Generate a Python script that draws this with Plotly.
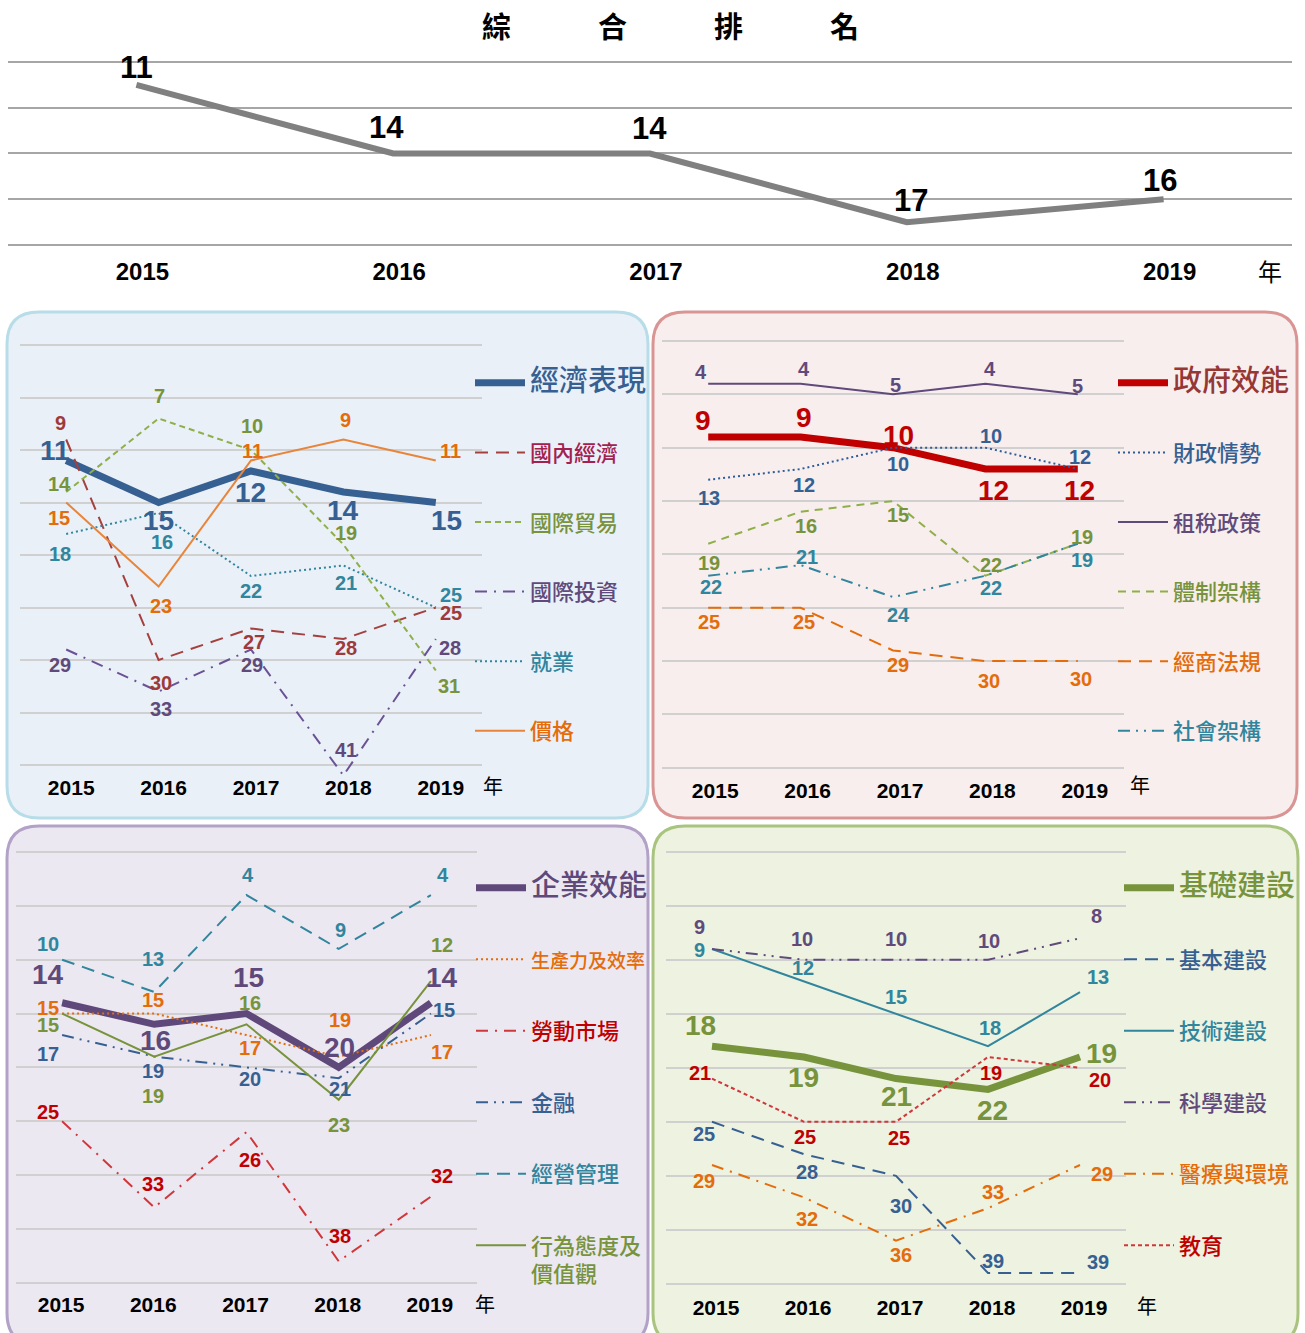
import plotly.graph_objects as go

W, H = 1305, 1333

years = [2015, 2016, 2017, 2018, 2019]
year_labels = ["2015", "2016", "2017", "2018", "2019"]

# 綜合排名
overall = [11, 14, 14, 17, 16]

# 經濟表現
econ_perf = [11, 15, 12, 14, 15]
econ_domestic = [9, 30, 27, 28, 25]
econ_trade = [14, 7, 10, 19, 31]
econ_invest = [29, 33, 29, 41, 28]
econ_employ = [18, 16, 22, 21, 25]
econ_prices = [15, 23, 11, 9, 11]

# 政府效能
gov_eff = [9, 9, 10, 12, 12]
gov_finance = [13, 12, 10, 10, 12]
gov_tax = [4, 4, 5, 4, 5]
gov_inst = [19, 16, 15, 22, 19]
gov_biz_law = [25, 25, 29, 30, 30]
gov_society = [22, 21, 24, 22, 19]

# 企業效能
biz_eff = [14, 16, 15, 20, 14]
biz_productivity = [15, 15, 17, 19, 17]
biz_labor = [25, 33, 26, 38, 32]
biz_finance = [17, 19, 20, 21, 15]
biz_mgmt = [10, 13, 4, 9, 4]
biz_attitude = [15, 19, 16, 23, 12]

# 基礎建設
inf_total = [18, 19, 21, 22, 19]
inf_basic = [25, 28, 30, 39, 39]
inf_tech = [9, 12, 15, 18, 13]
inf_sci = [9, 10, 10, 10, 8]
inf_health = [29, 32, 36, 33, 29]
inf_edu = [21, 25, 25, 19, 20]

NUMFONT = "Liberation Sans, Arial, sans-serif"
CJK = "Noto Sans CJK TC, Noto Sans CJK SC, sans-serif"


def xd(a, b):
    return [a / W, b / W]


def yd(top, bottom):
    return [1 - bottom / H, 1 - top / H]


fig = go.Figure()
annotations = []

# ---------------- panel geometry (pixel based) ----------------
panels = {
    "p1": ("x2", "y2", (20, 482), 345.0, 10.5, 773, 5),
    "p2": ("x3", "y3", (662, 1124), 341.0, 10.67, 776, 7),
    "p3": ("x4", "y4", (16, 477), 852.0, 10.77, 1290, -1),
    "p4": ("x5", "y5", (666, 1126), 851.8, 10.8, 1293, 4),
}
RMIN, RMAX = -1.5, 42.5

axis_common = dict(showline=False, zeroline=False)

layout_axes = {}
top_k = 22.875
top_y0 = 62 - 10 * top_k
layout_axes["xaxis"] = dict(domain=xd(8, 1292), range=[2014.5, 2019.5], tickvals=years,
                            ticktext=year_labels, showgrid=False, anchor="free",
                            position=1 - 255 / H, ticks="", ticklabelshift=6,
                            tickfont=dict(family=NUMFONT, size=24, color="black", weight="bold"),
                            **axis_common)
layout_axes["yaxis"] = dict(domain=yd(top_y0 + 9.7 * top_k, top_y0 + 18.3 * top_k),
                            range=[18.3, 9.7], tick0=10, dtick=2, showticklabels=False,
                            gridcolor="#A6A6A6", gridwidth=1.5, anchor="x", **axis_common)

for key, (xa, ya, (xa0, xa1), y0, k, apos, shift) in panels.items():
    xn = "xaxis" + xa[1:]
    yn = "yaxis" + ya[1:]
    layout_axes[xn] = dict(domain=xd(xa0, xa1), range=[2014.5, 2019.5], tickvals=years,
                           ticktext=year_labels, showgrid=False, anchor="free",
                           position=1 - apos / H, ticks="", ticklabelshift=shift,
                           tickfont=dict(family=NUMFONT, size=21, color="black", weight="bold"),
                           **axis_common)
    layout_axes[yn] = dict(domain=yd(y0 + RMIN * k, y0 + RMAX * k), range=[RMAX, RMIN],
                           tick0=0, dtick=5, showticklabels=False, gridcolor="#D0D0D0",
                           gridwidth=1.5, anchor=xa, **axis_common)


def add_labels(xa, ya, values, offsets, color, size):
    for yr, v, (dx, dy) in zip(years, values, offsets):
        annotations.append(dict(
            x=yr, y=v, xref=xa, yref=ya, text=str(v), showarrow=False,
            xshift=dx, yshift=-dy, xanchor="center", yanchor="middle",
            font=dict(family=NUMFONT, size=size, color=color, weight="bold")))


# ---------------- top overall line ----------------
fig.add_trace(go.Scatter(x=years, y=overall, mode="lines", xaxis="x", yaxis="y",
                         line=dict(color="#808080", width=6), showlegend=False,
                         hoverinfo="skip"))
add_labels("x", "y", overall, [(0, -17), (-7, -26), (-1, -25), (4, -22), (-4, -19)],
           "black", 31)


def add_series(xa, ya, legend, name, values, color, label_color, dash, width, offsets,
               name_color, main=False, name_size=None):
    if main:
        lname = f"<span style='font-size:29px;color:{name_color}'>{name}</span>"
        tsize = 28
    elif name_size:
        lname = f"<span style='font-size:{name_size}px;color:{name_color}'>{name}</span>"
        tsize = 20
    else:
        lname = f"<span style='color:{name_color}'>{name}</span>"
        tsize = 20
    fig.add_trace(go.Scatter(
        x=years, y=values, mode="lines", xaxis=xa, yaxis=ya,
        line=dict(color=color, width=width, dash=dash),
        name=lname, legend=legend, legendgroup=legend + name, hoverinfo="skip"))
    add_labels(xa, ya, values, offsets, label_color, tsize)


LONG = "13px,8px"
SHORT = "6px,4px"
DOT = "2px,3px"
DASHDOT = "12px,7px,2px,7px"
DASHDOTDOT = "12px,6px,2px,6px,2px,6px"

# Panel 1 : 經濟表現
add_series("x2", "y2", "legend", "經濟表現", econ_perf, "#376092", "#376092", "solid", 7,
           [(-11, -10), (0, 18), (-1, 21), (0, 18), (11, 18)], "#376092", main=True)
add_series("x2", "y2", "legend", "國內經濟", econ_domestic, "#A5403E", "#9E3A3A", LONG, 2,
           [(-6, -17), (2, 23), (3, 13), (3, 9), (15, 5)], "#A3214E")
add_series("x2", "y2", "legend", "國際貿易", econ_trade, "#8FAF48", "#77933C", SHORT, 2,
           [(-7, -8), (1, -23), (1, -24), (3, -12), (13, 15)], "#77933C")
add_series("x2", "y2", "legend", "國際投資", econ_invest, "#6A5294", "#604A7B", DASHDOT, 2,
           [(-6, 15), (2, 17), (1, 15), (3, -26), (14, 9)], "#604A7B")
add_series("x2", "y2", "legend", "就業", econ_employ, "#31859C", "#31859C", DOT, 2,
           [(-6, 20), (3, 29), (0, 15), (3, 17), (15, -13)], "#31859C")
add_series("x2", "y2", "legend", "價格", econ_prices, "#E8853A", "#E46C0A", "solid", 2,
           [(-7, 15), (2, 19), (1, -10), (2, -20), (15, -10)], "#E46C0A")

# Panel 2 : 政府效能
add_series("x3", "y3", "legend2", "政府效能", gov_eff, "#C00000", "#C00000", "solid", 7,
           [(-5, -17), (3, -20), (5, -12), (8, 21), (2, 21)], "#953735", main=True)
add_series("x3", "y3", "legend2", "財政情勢", gov_finance, "#2E5C99", "#376092", DOT, 2,
           [(1, 18), (3, 16), (5, 16), (6, -12), (2, -12)], "#376092")
add_series("x3", "y3", "legend2", "租稅政策", gov_tax, "#604A7B", "#604A7B", "solid", 2,
           [(-7, -12), (3, -15), (2, -9), (5, -15), (0, -8)], "#604A7B")
add_series("x3", "y3", "legend2", "體制架構", gov_inst, "#8FAF48", "#77933C", "8px,6px", 2,
           [(1, 19), (5, 14), (5, 14), (6, -11), (4, -7)], "#77933C")
add_series("x3", "y3", "legend2", "經商法規", gov_biz_law, "#E46C0A", "#E46C0A", LONG, 2,
           [(1, 14), (3, 14), (5, 15), (4, 20), (3, 18)], "#E46C0A")
add_series("x3", "y3", "legend2", "社會架構", gov_society, "#31859C", "#31859C", DASHDOTDOT, 2,
           [(3, 11), (6, -8), (5, 18), (6, 12), (4, 16)], "#31859C")

# Panel 3 : 企業效能
add_series("x4", "y4", "legend3", "企業效能", biz_eff, "#5F497A", "#5F497A", "solid", 7,
           [(-14, -28), (1, 16), (2, -36), (1, -20), (11, -25)], "#5F497A", main=True)
add_series("x4", "y4", "legend3", "生產力及效率", biz_productivity, "#E46C0A", "#E46C0A", DOT, 2,
           [(-14, -6), (-1, -14), (3, 13), (1, -37), (11, 17)], "#E46C0A", name_size=19)
add_series("x4", "y4", "legend3", "勞動市場", biz_labor, "#D0373A", "#C00000", DASHDOT, 2,
           [(-14, -9), (-1, -23), (3, 28), (1, -25), (11, -21)], "#C00000")
add_series("x4", "y4", "legend3", "金融", biz_finance, "#376092", "#376092", DASHDOTDOT, 2,
           [(-14, 19), (-1, 14), (3, 12), (1, 11), (13, -4)], "#376092")
add_series("x4", "y4", "legend3", "經營管理", biz_mgmt, "#31859C", "#31859C", LONG, 2,
           [(-14, -16), (-1, -33), (1, -20), (2, -19), (12, -20)], "#31859C")
add_series("x4", "y4", "legend3", "行為態度及<br>價值觀", biz_attitude, "#77933C", "#77933C", "solid", 2,
           [(-14, 11), (-1, 39), (3, -21), (0, 25), (11, -36)], "#77933C")

# Panel 4 : 基礎建設
add_series("x5", "y5", "legend4", "基礎建設", inf_total, "#77933C", "#77933C", "solid", 7,
           [(-12, -21), (-1, 20), (0, 18), (4, 21), (21, -4)], "#77933C", main=True)
add_series("x5", "y5", "legend4", "基本建設", inf_basic, "#376092", "#376092", LONG, 2,
           [(-8, 12), (3, 18), (5, 30), (5, -12), (18, -11)], "#376092")
add_series("x5", "y5", "legend4", "技術建設", inf_tech, "#31859C", "#31859C", "solid", 2,
           [(-13, 1), (-1, -13), (0, -17), (2, -18), (18, -15)], "#31859C")
add_series("x5", "y5", "legend4", "科學建設", inf_sci, "#604A7B", "#604A7B", DASHDOTDOT, 2,
           [(-13, -22), (-2, -21), (0, -21), (1, -19), (16, -22)], "#604A7B")
add_series("x5", "y5", "legend4", "醫療與環境", inf_health, "#E46C0A", "#E46C0A", DASHDOT, 2,
           [(-8, 16), (3, 22), (5, 14), (5, -16), (22, 9)], "#E46C0A")
add_series("x5", "y5", "legend4", "教育", inf_edu, "#D0373A", "#C00000", "4px,3px", 2,
           [(-12, -6), (1, 15), (3, 16), (3, 16), (20, 12)], "#C00000")


# ---------------- background rounded panels ----------------
def rounded(x0, y0, x1, y1, r):
    rx, ry = r / W, r / H
    X0, X1 = x0 / W, x1 / W
    Y0, Y1 = 1 - y0 / H, 1 - y1 / H
    return (f"M{X0 + rx},{Y0} L{X1 - rx},{Y0} Q{X1},{Y0} {X1},{Y0 - ry} "
            f"L{X1},{Y1 + ry} Q{X1},{Y1} {X1 - rx},{Y1} L{X0 + rx},{Y1} "
            f"Q{X0},{Y1} {X0},{Y1 + ry} L{X0},{Y0 - ry} Q{X0},{Y0} {X0 + rx},{Y0} Z")


shapes = [
    dict(type="path", path=rounded(7, 312, 648, 818, 32), xref="paper", yref="paper",
         fillcolor="#EAF0F8", line=dict(color="#B7DDE8", width=3), layer="below"),
    dict(type="path", path=rounded(653, 312, 1297, 818, 32), xref="paper", yref="paper",
         fillcolor="#F8EEEE", line=dict(color="#D99594", width=3), layer="below"),
    dict(type="path", path=rounded(7, 826, 648, 1345, 32), xref="paper", yref="paper",
         fillcolor="#ECE8F2", line=dict(color="#B3A2C7", width=3), layer="below"),
    dict(type="path", path=rounded(653, 826, 1298, 1345, 32), xref="paper", yref="paper",
         fillcolor="#EDF2E1", line=dict(color="#A9C47F", width=3), layer="below"),
]

annotations.append(dict(text="<b>綜　　　合　　　排　　　名</b>", x=670 / W, y=1 - 25 / H,
                        xref="paper", yref="paper", showarrow=False,
                        font=dict(family=CJK, size=29, color="black"),
                        xanchor="center", yanchor="middle"))
for (ax, ay, sz) in [(1270, 270, 24), (493, 785, 20), (1140, 784, 20), (485, 1303, 20), (1147, 1305, 20)]:
    annotations.append(dict(text="年", x=ax / W, y=1 - ay / H, xref="paper", yref="paper",
                            showarrow=False, font=dict(family=CJK, size=sz, color="black"),
                            xanchor="center", yanchor="middle"))

leg_common = dict(xanchor="left", yanchor="top", bgcolor="rgba(0,0,0,0)", borderwidth=0,
                  font=dict(family=CJK, size=22, weight=500), itemwidth=50,
                  itemclick=False, itemdoubleclick=False)

fig.update_layout(
    width=W, height=H, margin=dict(l=0, r=0, t=0, b=0),
    paper_bgcolor="white", plot_bgcolor="rgba(0,0,0,0)",
    shapes=shapes, annotations=annotations,
    legend=dict(x=470 / W, y=1 - 362 / H, tracegroupgap=38, **leg_common),
    legend2=dict(x=1113 / W, y=1 - 362 / H, tracegroupgap=38, **leg_common),
    legend3=dict(x=471 / W, y=1 - 867 / H, valign="top", tracegroupgap=39.9, **leg_common),
    legend4=dict(x=1119 / W, y=1 - 867 / H, tracegroupgap=39.9, **leg_common),
    **layout_axes,
)

fig.write_html("out.html", config={"displayModeBar": False},
               post_script="document.body.style.margin='0px';")
